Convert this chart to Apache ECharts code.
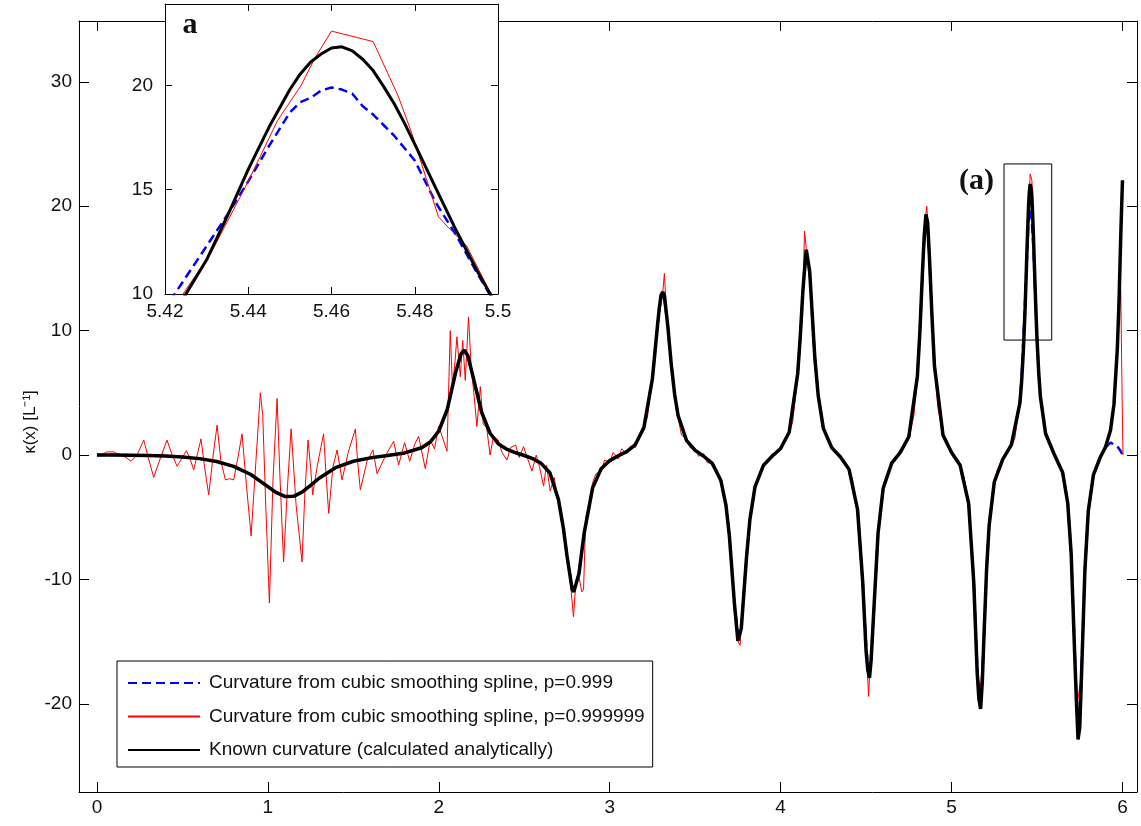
<!DOCTYPE html>
<html><head><meta charset="utf-8">
<script src="https://cdn.jsdelivr.net/npm/echarts@6/dist/echarts.min.js"></script>
<style>html,body{margin:0;padding:0;background:#fff}#c{width:1141px;height:826px}</style>
</head><body><div id="c"></div>
<script>
// ---------- data ----------
const xKnown = [0,0.1,0.2,0.3,0.4,0.5,0.6,0.7,0.8,0.9,1.0,1.05,1.1,1.15,1.2,1.25,1.3,1.4,1.5,1.6,1.7,1.8,1.9,1.95,2.0,2.05,2.1,2.13,2.15,2.17,2.2,2.25,2.3,2.35,2.4,2.45,2.5,2.55,2.6,2.65,2.7,2.73,2.75,2.78,2.79,2.8,2.82,2.85,2.9,2.95,3.0,3.05,3.1,3.15,3.2,3.25,3.28,3.29,3.3,3.31,3.32,3.34,3.36,3.38,3.4,3.45,3.5,3.55,3.6,3.65,3.68,3.7,3.73,3.75,3.76,3.77,3.8,3.82,3.85,3.9,3.95,4.0,4.05,4.1,4.115,4.13,4.14,4.15,4.16,4.17,4.2,4.22,4.25,4.3,4.35,4.4,4.45,4.48,4.5,4.51,4.52,4.53,4.54,4.57,4.6,4.65,4.7,4.75,4.8,4.815,4.83,4.84,4.85,4.86,4.87,4.885,4.9,4.95,5.0,5.05,5.1,5.13,5.15,5.16,5.17,5.18,5.19,5.205,5.22,5.25,5.3,5.35,5.4,5.41,5.42,5.43,5.435,5.44,5.445,5.45,5.4525,5.455,5.4575,5.46,5.4625,5.465,5.4675,5.47,5.4725,5.475,5.4775,5.48,5.485,5.49,5.495,5.5,5.51,5.52,5.55,5.6,5.65,5.68,5.7,5.72,5.73,5.74,5.75,5.76,5.78,5.8,5.83,5.87,5.9,5.93,5.95,5.97,5.98,5.99,6.0];
const kKnown = [0,0.0,-0.01,-0.03,-0.08,-0.16,-0.29,-0.52,-0.91,-1.57,-2.54,-3.03,-3.33,-3.32,-2.98,-2.44,-1.87,-0.99,-0.50,-0.23,-0.04,0.17,0.58,1.04,1.93,3.68,6.72,8.14,8.43,7.98,6.32,3.46,1.75,0.88,0.45,0.18,-0.04,-0.29,-0.69,-1.43,-3.58,-5.98,-8.09,-10.79,-11.0,-10.95,-9.55,-6.32,-2.64,-1.11,-0.45,-0.07,0.28,0.84,2.20,6.15,10.47,11.8,12.83,13.1,12.80,10.36,7.31,4.86,3.18,1.15,0.37,-0.10,-0.67,-2.03,-4.03,-6.47,-12.0,-14.94,-15.0,-13.92,-8.29,-5.21,-2.56,-0.82,-0.10,0.52,1.83,6.56,9.54,13.16,14.9,16.5,16.4,14.77,7.83,4.76,2.14,0.57,-0.16,-1.14,-4.38,-10.15,-15.76,-17.3,-17.92,-16.4,-13.79,-6.28,-2.67,-0.65,0.21,1.47,6.31,9.98,14.76,17.6,19.34,18.7,16.11,11.28,7.15,1.60,0.20,-0.82,-3.89,-10.24,-17.51,-19.6,-20.41,-18.2,-14.45,-9.19,-5.64,-2.17,-0.33,0.81,4.19,5.91,8.34,11.64,13.75,15.97,18.0,19.80,20.55,21.12,21.5,21.79,21.85,21.65,21.25,20.71,19.95,19.14,18.2,17.18,15.1,13.03,11.1,9.34,6.6,4.66,1.73,0.08,-1.41,-3.90,-7.97,-15.83,-19.6,-22.87,-21.9,-17.89,-9.32,-4.51,-1.60,-0.18,0.61,1.99,4.05,8.56,12.43,17.61,22.09];
const kSpline999 = [0,0.0,-0.01,-0.03,-0.08,-0.16,-0.29,-0.52,-0.91,-1.57,-2.54,-3.03,-3.33,-3.32,-2.98,-2.44,-1.87,-0.99,-0.50,-0.23,-0.04,0.17,0.58,1.04,1.93,3.68,6.72,8.1,8.3,7.9,6.32,3.46,1.75,0.88,0.45,0.18,-0.04,-0.29,-0.69,-1.43,-3.58,-5.98,-8.09,-10.6,-10.8,-10.8,-9.55,-6.32,-2.64,-1.11,-0.45,-0.07,0.28,0.84,2.20,6.15,10.47,11.6,12.5,12.7,12.5,10.36,7.31,4.86,3.18,1.15,0.37,-0.10,-0.67,-2.03,-4.03,-6.47,-12.0,-14.4,-14.5,-13.7,-8.29,-5.21,-2.56,-0.82,-0.10,0.52,1.83,6.56,9.54,13.0,14.8,15.8,15.9,14.6,7.83,4.76,2.14,0.57,-0.16,-1.14,-4.38,-10.15,-15.3,-16.9,-17.1,-16.0,-13.9,-6.28,-2.67,-0.65,0.21,1.47,6.31,9.98,14.5,17.2,18.2,18.0,16.0,11.28,7.15,1.60,0.20,-0.82,-3.89,-10.24,-17.0,-18.9,-19.2,-17.7,-14.6,-9.19,-5.64,-2.17,-0.33,0.81,4.19,6.2,9.3,12.3,13.8,15.4,17.1,18.7,19.2,19.4,19.75,19.9,19.8,19.6,19.0,18.6,18.1,17.6,17.0,16.4,14.4,12.8,11.0,9.3,6.8,4.7,1.73,0.08,-1.41,-3.90,-7.97,-15.6,-19.2,-21.0,-20.6,-17.5,-9.32,-4.51,-1.60,-0.18,0.6,1.0,0.85,0.7,0.5,0.3,0.05];
const xSpline999999 = [0,0.03,0.06,0.1,0.13,0.16,0.2,0.235,0.274,0.3,0.332,0.37,0.41,0.44,0.469,0.5,0.523,0.545,0.566,0.59,0.609,0.63,0.654,0.68,0.703,0.725,0.752,0.775,0.8,0.825,0.849,0.875,0.902,0.93,0.956,0.97,0.985,1.009,1.03,1.054,1.07,1.092,1.115,1.136,1.165,1.2,1.215,1.235,1.25,1.262,1.29,1.326,1.34,1.356,1.38,1.405,1.434,1.47,1.512,1.525,1.541,1.58,1.615,1.639,1.69,1.736,1.765,1.8,1.83,1.86,1.882,1.921,1.95,1.975,1.999,2.02,2.048,2.057,2.067,2.08,2.095,2.106,2.126,2.14,2.155,2.174,2.19,2.205,2.223,2.243,2.26,2.28,2.3,2.32,2.348,2.37,2.399,2.42,2.45,2.47,2.496,2.52,2.545,2.57,2.59,2.613,2.63,2.652,2.675,2.7,2.72,2.745,2.765,2.788,2.8,2.82,2.837,2.847,2.86,2.88,2.9,
  2.92,2.95,2.97,3.0,3.02,3.05,3.07,3.1,3.12,3.15,3.17,3.2,3.22,3.25,3.27,3.29,3.3,3.31,3.32,3.33,3.34,3.36,3.38,3.4,3.42,3.45,3.47,3.5,3.52,3.55,3.57,3.6,3.62,3.65,3.68,3.7,3.73,3.75,3.763,3.77,3.8,3.82,3.85,3.87,3.9,3.92,3.95,3.97,4.0,4.02,4.05,4.07,4.1,4.115,4.13,4.14,4.15,4.16,4.17,4.2,4.22,4.25,4.27,4.3,4.32,4.35,4.37,4.4,4.42,4.45,4.48,4.5,4.515,4.52,4.54,4.57,4.6,4.62,4.65,4.67,4.7,4.72,4.75,4.78,4.8,4.815,4.83,4.845,4.855,4.86,4.87,4.885,4.9,4.92,4.95,4.97,5.0,5.02,5.05,5.07,5.1,5.13,5.15,5.17,5.19,5.205,5.22,5.25,5.27,5.3,5.32,5.35,5.37,5.4,5.41,5.42,5.425,5.431,5.44,5.447,5.4527,5.456,5.46,5.47,5.476,5.4793,5.4857,5.488,5.4925,5.4978,5.5,5.51,5.52,5.55,5.57,5.6,5.62,5.65,5.68,5.7,5.72,5.735,5.74,5.76,5.78,5.8,5.83,5.85,5.87,5.9,5.93,5.95,5.97,5.98,5.99,5.998,6.003];
const kSpline999999 = [0,0.05,0.25,0.25,0.0,-0.1,-0.5,0.0,1.2,-0.2,-1.8,-0.3,1.2,0.0,-0.9,-0.2,0.35,-0.3,-1.2,0.2,1.3,-1.0,-3.2,0.0,2.4,-0.5,-2.0,-1.9,-2.0,-0.2,1.7,-2.5,-6.5,-0.5,5.0,3.2,-3.0,-11.9,-2.0,4.55,-1.5,-8.6,-2.5,2.1,-4.0,-8.6,-3.5,1.2,-1.0,-3.2,-0.8,1.7,-1.5,-4.7,-1.0,0.4,-2.0,0.2,2.1,-0.5,-2.8,-0.5,0.4,-1.5,0.0,1.1,-0.8,1.0,-0.5,0.9,1.5,-1.1,1.2,0.5,2.3,1.5,0.3,0.3,10.0,5.5,7.5,9.5,6.3,9.2,6.0,11.1,7.0,5.0,2.3,5.5,2.5,2.2,0.0,1.5,1.2,0.2,-0.4,0.6,0.8,-0.2,0.67,-0.3,-1.3,0.0,-1.0,-2.5,-0.8,-2.9,-1.8,-3.8,-4.7,-8.0,-9.5,-13.0,-10.6,-9.8,-11.0,-10.8,-5.0,-4.0,-2.2,
  -1.5,-1.3,-0.4,-0.6,0.2,-0.3,0.5,0.1,0.7,0.6,1.3,2.3,3.0,6.3,9.0,11.8,12.5,13.0,14.6,12.0,10.8,7.0,5.2,3.0,1.6,1.3,0.6,0.5,-0.1,0.1,-0.6,-0.7,-1.2,-2.2,-4.3,-6.3,-12.2,-15.0,-15.3,-13.6,-8.0,-5.4,-2.4,-1.7,-0.7,-0.5,0.1,0.0,0.6,0.9,1.9,2.6,6.4,9.8,13.0,18.0,16.6,15.8,14.5,7.9,4.9,2.0,1.4,0.7,0.2,-0.3,-0.5,-1.3,-1.9,-4.5,-10.3,-15.5,-19.4,-17.8,-13.5,-6.4,-2.6,-1.6,-0.8,-0.2,0.3,0.6,1.3,3.2,6.2,10.1,14.6,18.8,20.0,18.8,16.0,11.4,7.0,3.8,1.7,0.9,0.3,-0.3,-0.9,-1.6,-3.8,-10.1,-17.3,-18.8,-14.6,-9.0,-5.7,-2.0,-1.1,-0.4,0.1,0.8,1.3,4.3,5.8,8.6,10.2,11.95,15.4,18.3,20.0,21.3,22.6,22.1,19.5,17.7,13.7,13.2,12.3,10.2,9.6,6.7,4.5,1.8,0.9,0.0,-0.5,-1.5,-3.8,-7.8,-15.5,-20.1,-20.0,-17.6,-9.5,-4.6,-1.5,-0.7,-0.2,0.6,2.0,4.0,8.5,12.2,13.2,4.5,0];

const seriesNames = [
  'Curvature from cubic smoothing spline, p=0.999',
  'Curvature from cubic smoothing spline, p=0.999999',
  'Known curvature (calculated analytically)'
];
const xTicks = [0,1,2,3,4,5,6];
const yTicks = [-20,-10,0,10,20,30];
const insetXTicks = [5.42,5.44,5.46,5.48,5.5];
const insetYTicks = [10,15,20];
const mainXRange = [-0.105, 6.085];
const mainYRange = [-27.09, 34.89];
const insetXRange = [5.42, 5.5];
const insetYRange = [10, 23.9];
const zoomBoxX = [5.307, 5.586];
const zoomBoxY = [9.24, 23.4];

// ---------- chart ----------
const zip = (xs, ys) => xs.map((x, i) => [x, ys[i]]);
const FONT = '"Liberation Sans", Arial, sans-serif';
const SERIF = '"Liberation Serif", "Times New Roman", serif';
const TXT = '#111';

function axis(grid, pos, range, ticks, showLabel, z, tickLen, margin) {
  return {
    type: 'value', gridIndex: grid, position: pos, min: range[0], max: range[1], z: z,
    axisLine: { show: true, onZero: false, lineStyle: { color: '#000', width: 1 } },
    axisTick: { show: true, inside: true, length: tickLen, customValues: ticks, lineStyle: { color: '#000', width: 1 } },
    axisLabel: { show: showLabel, customValues: ticks, margin: margin, fontSize: 19, fontFamily: FONT, color: TXT },
    splitLine: { show: false }
  };
}

const blueStyle = { color: '#0000ff', width: 2.5, type: [9, 5] };
const redStyle = { color: '#ff0000', width: 1 };
const blackStyle = { color: '#000000', width: 3.5 };

function line(name, data, style, xi, yi, z, extra) {
  return Object.assign({
    name: name, type: 'line', xAxisIndex: xi, yAxisIndex: yi, data: data,
    symbol: 'none', showSymbol: false, z: z, clip: true,
    lineStyle: style, itemStyle: { color: style.color }, emphasis: { disabled: true }
  }, extra || {});
}

const chart = echarts.init(document.getElementById('c'), null, { renderer: 'canvas' });
chart.setOption({
  animation: false,
  backgroundColor: '#ffffff',
  grid: [
    { left: 79, right: 4, top: 21, bottom: 34, show: false, z: 0 },
    { left: 165, top: 4, width: 333, height: 290, show: true, backgroundColor: '#ffffff', borderWidth: 0, z: 20 }
  ],
  xAxis: [
    axis(0, 'bottom', mainXRange, xTicks, true, 0, 10, 6),
    axis(0, 'top', mainXRange, xTicks, false, 0, 10, 6),
    axis(1, 'bottom', insetXRange, insetXTicks, true, 21, 7, 8),
    axis(1, 'top', insetXRange, insetXTicks, false, 21, 7, 8)
  ],
  yAxis: [
    axis(0, 'left', mainYRange, yTicks, true, 0, 10, 7),
    axis(0, 'right', mainYRange, yTicks, false, 0, 10, 7),
    axis(1, 'left', insetYRange, insetYTicks, true, 21, 7, 12),
    axis(1, 'right', insetYRange, insetYTicks, false, 21, 7, 12)
  ],
  legend: {
    orient: 'vertical', left: 117, top: 661, padding: [12, 8, 7, 10], itemGap: 13.5,
    itemWidth: 72, itemHeight: 14, backgroundColor: '#ffffff', borderColor: '#000', borderWidth: 1,
    selectedMode: false, z: 10,
    itemStyle: { opacity: 0 },
    textStyle: { fontSize: 19, fontFamily: FONT, color: TXT, lineHeight: 20, padding: [0, 0, 0, 4] },
    data: seriesNames
  },
  series: [
    line(seriesNames[0], zip(xKnown, kSpline999), blueStyle, 0, 0, 2),
    line(seriesNames[1], zip(xSpline999999, kSpline999999), redStyle, 0, 0, 3),
    line(seriesNames[2], zip(xKnown, kKnown), blackStyle, 0, 0, 4, {
      markArea: {
        silent: true,
        itemStyle: { color: 'rgba(0,0,0,0)', borderColor: '#000', borderWidth: 1 },
        label: { show: true, formatter: '(a)', position: [-27, 18], align: 'center', verticalAlign: 'middle',
                 fontSize: 30, fontWeight: 'bold', fontFamily: SERIF, color: '#111' },
        data: [[{ xAxis: zoomBoxX[0], yAxis: zoomBoxY[1] }, { xAxis: zoomBoxX[1], yAxis: zoomBoxY[0] }]]
      }
    }),
    line(seriesNames[0], zip(xKnown, kSpline999), blueStyle, 2, 2, 22),
    line(seriesNames[1], zip(xSpline999999, kSpline999999), redStyle, 2, 2, 23),
    line(seriesNames[2], zip(xKnown, kKnown), { color: '#000', width: 3 }, 2, 2, 24)
  ],
  graphic: [
    { type: 'text', x: 30, y: 422, rotation: Math.PI / 2, z: 5,
      style: { text: 'κ(x) [L⁻¹]', fontSize: 17, fontFamily: FONT, fill: TXT, align: 'center', verticalAlign: 'middle' } },
    { type: 'text', x: 190, y: 25, z: 40,
      style: { text: 'a', fontSize: 30, fontWeight: 'bold', fontFamily: SERIF, fill: '#111', align: 'center', verticalAlign: 'middle' } }
  ]
});
</script>
</body></html>
